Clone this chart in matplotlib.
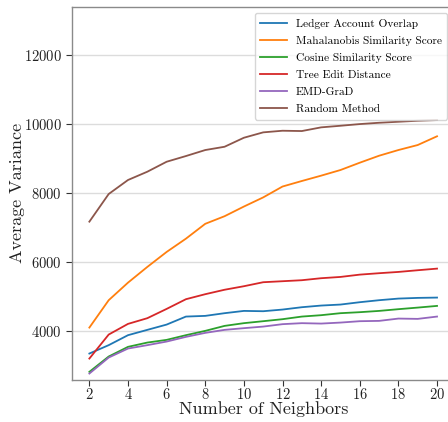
import matplotlib
matplotlib.use("Agg")
import matplotlib.pyplot as plt

neighbors = list(range(2, 21))

ledger_account_overlap = [3352, 3595, 3884, 4038, 4191, 4423, 4443, 4521, 4587, 4578,
                          4626, 4694, 4742, 4771, 4839, 4897, 4944, 4964, 4973]
mahalanobis_similarity = [4104, 4897, 5406, 5861, 6295, 6680, 7110, 7330, 7610, 7875,
                          8190, 8350, 8505, 8668, 8880, 9082, 9247, 9392, 9645]
cosine_similarity = [2822, 3266, 3546, 3670, 3748, 3884, 4009, 4153, 4232, 4289,
                     4347, 4423, 4463, 4521, 4550, 4587, 4637, 4683, 4732]
tree_edit_distance = [3207, 3902, 4211, 4376, 4645, 4926, 5071, 5200, 5302, 5418,
                      5447, 5476, 5534, 5571, 5638, 5679, 5716, 5765, 5812]
emd_grad = [2773, 3236, 3497, 3595, 3699, 3835, 3951, 4038, 4087, 4133,
            4203, 4232, 4220, 4249, 4289, 4298, 4365, 4356, 4423]
random_method = [7172, 7973, 8379, 8619, 8908, 9073, 9247, 9342, 9603, 9759,
                 9806, 9797, 9904, 9950, 9999, 10037, 10066, 10095, 10115]

series = [
    ("Ledger Account Overlap", ledger_account_overlap, "#1f77b4"),
    ("Mahalanobis Similarity Score", mahalanobis_similarity, "#ff7f0e"),
    ("Cosine Similarity Score", cosine_similarity, "#2ca02c"),
    ("Tree Edit Distance", tree_edit_distance, "#d62728"),
    ("EMD-GraD", emd_grad, "#9467bd"),
    ("Random Method", random_method, "#8c564b"),
]

x_ticks = list(range(2, 21, 2))
y_ticks = [4000, 6000, 8000, 10000, 12000]

plt.rcParams["font.family"] = ["cmr10", "DejaVu Serif"]
plt.rcParams["axes.formatter.use_mathtext"] = True

fig = plt.figure(figsize=(4.48, 4.22), dpi=100)
ax = fig.add_axes([0.1607, 0.1007, 0.8536, 0.8827])

for label, values, color in series:
    ax.plot(neighbors, values, color=color, lw=1.3, label=label)

ax.set_xlim(1.1, 20.9)
ax.set_ylim(2600, 13390)
ax.set_xticks(x_ticks)
ax.set_yticks(y_ticks)
ax.yaxis.grid(True, color="#dcdcdc", lw=1.0)
ax.set_axisbelow(True)

for side in ax.spines.values():
    side.set_color("#8a8a8a")
    side.set_linewidth(1.0)
ax.tick_params(axis="both", labelsize=10.5, colors="#333333", length=4,
               labelcolor="#222222")
ax.tick_params(axis="x", pad=1.5)

ax.set_xlabel("Number of Neighbors", fontsize=13, color="#222222")
ax.set_ylabel("Average Variance", fontsize=13, color="#222222")
ax.xaxis.set_label_coords(0.5, -0.058)
ax.yaxis.set_label_coords(-0.122, 0.5)

# legend box anchored by its top-left corner, running past the right edge
leg = ax.legend(loc="upper left", bbox_to_anchor=(0.5685, 0.9692),
                bbox_transform=fig.transFigure, borderaxespad=0.0,
                fontsize=8.2, frameon=True, fancybox=True, borderpad=0.5,
                handlelength=2.3, handletextpad=0.8, labelspacing=0.62)
leg.get_frame().set_edgecolor("#cccccc")

fig.savefig("out.png", dpi=100)
